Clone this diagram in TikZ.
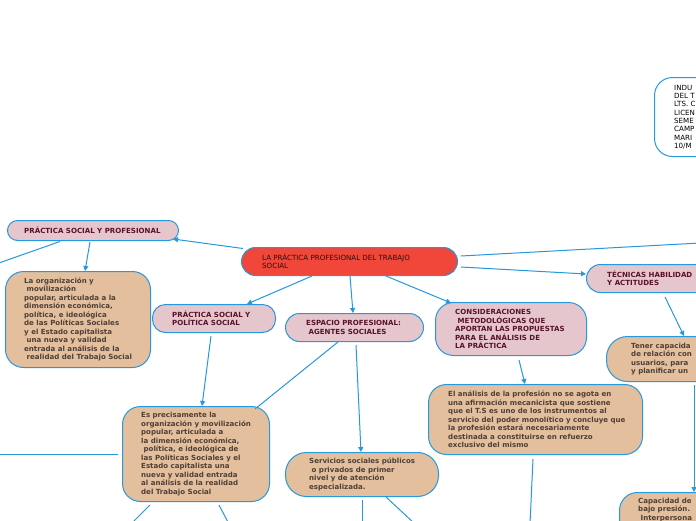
\documentclass[tikz,border=0pt]{standalone}
\usepackage{fontspec}
\setmainfont{DejaVu Sans}
\usetikzlibrary{arrows.meta,calc}
\definecolor{pinkfill}{RGB}{229,198,204}
\definecolor{tanfill}{RGB}{227,191,158}
\definecolor{edgeblue}{RGB}{38,152,222}
\definecolor{rootred}{RGB}{240,71,58}
\definecolor{maroontxt}{RGB}{88,18,42}
\definecolor{browntxt}{RGB}{78,64,54}
\definecolor{roottxt}{RGB}{40,16,16}
\newcommand{\ls}{\hspace*{0.35em}}
\tikzset{
  box/.style={draw=edgeblue, line width=1pt, inner sep=0pt, anchor=north west},
  pinkbox/.style={box, fill=pinkfill},
  tanbox/.style={box, fill=tanfill},
  txt/.style={anchor=west, inner sep=0pt, align=left, font=\fontsize{7.05}{8.5}\selectfont\bfseries},
  ptxt/.style={txt, text=maroontxt},
  ttxt/.style={txt, text=browntxt},
  rtxt/.style={anchor=west, inner sep=0pt, align=left, font=\fontsize{7.1}{8.3}\selectfont, text=black},
  conn/.style={draw=edgeblue, line width=1pt},
  arr/.style={conn, -{Triangle[length=5pt,width=5pt]}},
}
\begin{document}
\begin{tikzpicture}[x=1pt,y=-1pt]
\useasboundingbox (0,0) rectangle (696,520);
\clip (0,0) rectangle (696,520);
\fill[white] (0,0) rectangle (696,520);

% boxes
\node[box, fill=rootred, minimum width=216pt, minimum height=28pt, rounded corners=14pt] (root) at (241,247) {};
\node[pinkbox, minimum width=171pt, minimum height=20pt, rounded corners=10pt] (psyp) at (7,220) {};
\node[tanbox, minimum width=145pt, minimum height=96pt, rounded corners=18pt] (laorg) at (5,271) {};
\node[pinkbox, minimum width=123pt, minimum height=28pt, rounded corners=13pt] (psyps) at (152,304) {};
\node[pinkbox, minimum width=138pt, minimum height=28pt, rounded corners=14pt] (esp) at (285,313) {};
\node[pinkbox, minimum width=151pt, minimum height=53pt, rounded corners=18pt] (cons) at (435,302) {};
\node[pinkbox, minimum width=150pt, minimum height=28pt, rounded corners=14pt] (tec) at (586,264) {};
\node[box, fill=white, minimum width=90pt, minimum height=79pt, rounded corners=18pt] (info) at (654,77) {};
\node[tanbox, minimum width=140pt, minimum height=45pt, rounded corners=21pt] (tener) at (606,336) {};
\node[tanbox, minimum width=214pt, minimum height=70pt, rounded corners=18pt] (anal) at (428,384) {};
\node[tanbox, minimum width=147pt, minimum height=95pt, rounded corners=18pt] (espre) at (122,406) {};
\node[tanbox, minimum width=153pt, minimum height=44pt, rounded corners=21pt] (serv) at (285,452) {};
\node[tanbox, minimum width=130pt, minimum height=60pt, rounded corners=18pt] (capac) at (619,492) {};

% texts
\node[rtxt, text=roottxt] (rootT) at ($(root.west)+(21,0)$) {LA PRÁCTICA PROFESIONAL DEL TRABAJO\\SOCIAL};
\node[ptxt] (psypT) at ($(psyp.west)+(17,0)$) {PRÁCTICA SOCIAL Y PROFESIONAL};
\node[ttxt] (laorgT) at ($(laorg.west)+(19,0)$) {La organización y\\\ls movilización\\popular, articulada a la\\dimensión económica,\\política, e ideológica\\de las Políticas Sociales\\y el Estado capitalista\\\ls una nueva y validad\\entrada al análisis de la\\\ls realidad del Trabajo Social};
\node[ptxt] (psypsT) at ($(psyps.west)+(20,0)$) {PRÁCTICA SOCIAL Y\\POLÍTICA SOCIAL};
\node[ptxt] (espT) at ($(esp.west)+(21,0)$) {ESPACIO PROFESIONAL:\\\ls AGENTES SOCIALES};
\node[ptxt] (consT) at ($(cons.west)+(20,0)$) {CONSIDERACIONES\\\ls METODOLÓGICAS QUE\\APORTAN LAS PROPUESTAS\\PARA EL ANÁLISIS DE\\LA PRÁCTICA};
\node[ptxt] (tecT) at ($(tec.west)+(21,0)$) {TÉCNICAS HABILIDAD\\Y ACTITUDES};
\node[rtxt] (infoT) at ($(info.west)+(20,0)$) {INDU\\DEL T\\LTS. C\\LICEN\\SEME\\CAMP\\MARI\\10/M};
\node[ttxt] (tenerT) at ($(tener.west)+(25,0)$) {Tener capacida\\de relación con\\usuarios, para\\y planificar un};
\node[ttxt] (analT) at ($(anal.west)+(20,0)$) {El análisis de la profesión no se agota en\\una afirmación mecanicista que sostiene\\que el T.S es uno de los instrumentos al\\servicio del poder monolítico y concluye que\\la profesión estará necesariamente\\destinada a constituirse en refuerzo\\exclusivo del mismo};
\node[ttxt] (espreT) at ($(espre.west)+(19,0)$) {Es precisamente la\\organización y movilización\\popular, articulada a\\la dimensión económica,\\\ls política, e ideológica de\\las Políticas Sociales y el\\Estado capitalista una\\nueva y validad entrada\\al análisis de la realidad\\del Trabajo Social};
\node[ttxt] (servT) at ($(serv.west)+(24,0)$) {Servicios sociales públicos\\\ls o privados de primer\\nivel y de atención\\especializada.};
\node[ttxt, anchor=north west] (capacT) at ($(capac.north west)+(19,5.5)$) {Capacidad de\\bajo presión.\\\ls Interpersona};

% free ends
\coordinate (offR) at (700,243);
\coordinate (offL1) at (-4,264);
\coordinate (offL2) at (-4,454);
\coordinate (offB1) at (530,524);
\coordinate (offB2) at (131,524);
\coordinate (offB3) at (229,524);
\coordinate (offB4) at (362,524);
\coordinate (offB5) at (415,524);

% connectors
\draw[arr] ($(root.north west)+(2,1.5)$) -- ($(psyp.north west)+(166,19)$);
\draw[arr] ($(root.north west)+(71,29)$) -- ($(psyps.north west)+(95,0)$);
\draw[arr] ($(root.north west)+(109,29)$) -- ($(esp.north west)+(68,0)$);
\draw[arr] ($(root.north west)+(145,29)$) -- ($(cons.north west)+(16,1)$);
\draw[conn] ($(root.north west)+(220,9)$) -- (offR);
\draw[arr] ($(root.north west)+(220,20)$) -- ($(tec.north west)+(0,10)$);
\draw[conn] ($(psyp.north west)+(53,21.5)$) -- (offL1);
\draw[arr] ($(psyp.north west)+(83,22)$) -- ($(laorg.north west)+(80,0)$);
\draw[arr] ($(psyps.north west)+(59,32)$) -- ($(espre.north west)+(80,0)$);
\draw[arr] ($(esp.north west)+(71,32)$) -- ($(serv.north west)+(76,0)$);
\draw[conn] ($(esp.north west)+(53,29)$) -- ($(espre.north west)+(133,3)$);
\draw[arr] ($(cons.north west)+(84,58)$) -- ($(anal.north west)+(97,0)$);
\draw[conn] ($(anal.north west)+(105,75)$) -- (offB1);
\draw[arr] ($(tec.north west)+(79,33)$) -- ($(tener.north west)+(78,0)$);
\draw[arr] ($(tener.north west)+(88,49)$) -- ($(capac.north west)+(75,0)$);
\draw[conn] ($(espre.north west)+(-4,48)$) -- (offL2);
\draw[conn] ($(espre.north west)+(28,99)$) -- (offB2);
\draw[conn] ($(espre.north west)+(97,99)$) -- (offB3);
\draw[conn] ($(serv.north west)+(77,48)$) -- (offB4);
\draw[conn] ($(serv.north west)+(101,45)$) -- (offB5);
\end{tikzpicture}
\end{document}
